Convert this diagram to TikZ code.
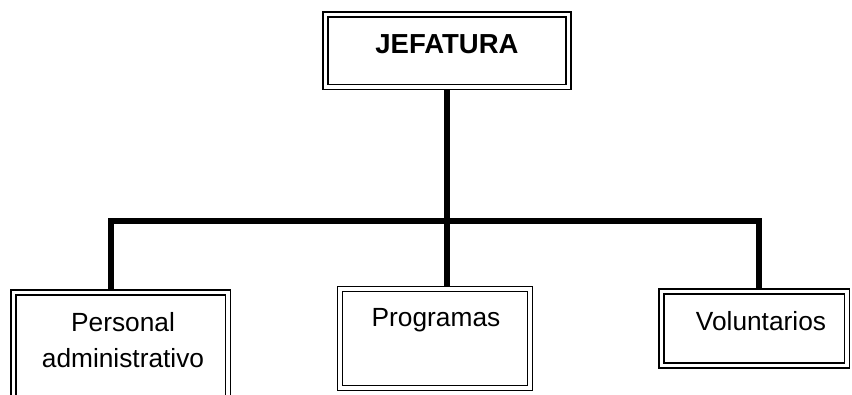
\documentclass[tikz,border=0pt]{standalone}
\usepackage{fontspec}
\setmainfont{Liberation Sans}
\pgfdeclarelayer{bg}
\pgfsetlayers{bg,main}
\begin{document}
\begin{tikzpicture}[x=1pt,y=1pt,
  box/.style={draw=black, line width=1.7pt, double=white, double distance=3.2pt,
    fill=white, inner sep=0pt, outer sep=0pt},
  conn/.style={draw=black, line width=6pt, line join=miter, line cap=butt},
  lbl/.style={inner sep=0pt, font=\fontsize{26.3}{35}\selectfont},
  head/.style={inner sep=0pt, font=\fontsize{27.5}{30}\selectfont\bfseries}]
  \useasboundingbox (0,0) rectangle (852,-394);
  \clip (0,0) rectangle (852,-394);

  % corners of the horizontal bar
  \coordinate (busL) at (110.7,-220.5);
  \coordinate (busR) at (759,-220.5);

  % boxes (positions at the middle of the double border)
  \node[box, minimum width=243pt, minimum height=72.5pt] (jef) at (447,-50.75) {};
  \node[box, minimum width=214.5pt, minimum height=118pt] (pers) at (120.75,-351.5) {};
  \node[box, minimum width=190pt, minimum height=99pt] (prog) at (435,-338.5) {};
  \node[box, minimum width=185.5pt, minimum height=74pt] (vol) at (754.25,-328.5) {};

  % connectors, kept behind the boxes
  \begin{pgfonlayer}{bg}
    \draw[conn] (jef.south) -- (jef.south |- prog.north);
    \draw[conn] (pers.north -| busL) -- (busL) -- (busR) -- (vol.north -| busR);
  \end{pgfonlayer}

  % labels
  \node[head, anchor=base] (jef-t) at (447,-53.3) {JEFATURA};
  \node[lbl, anchor=base] (pers-t1) at (123,-331.7) {Personal};
  \node[lbl, anchor=base] (pers-t2) at (123,-367) {administrativo};
  \node[lbl, anchor=base] (prog-t) at (436,-326.7) {Programas};
  \node[lbl, anchor=base] (vol-t) at (761,-330.7) {Voluntarios};
\end{tikzpicture}
\end{document}
